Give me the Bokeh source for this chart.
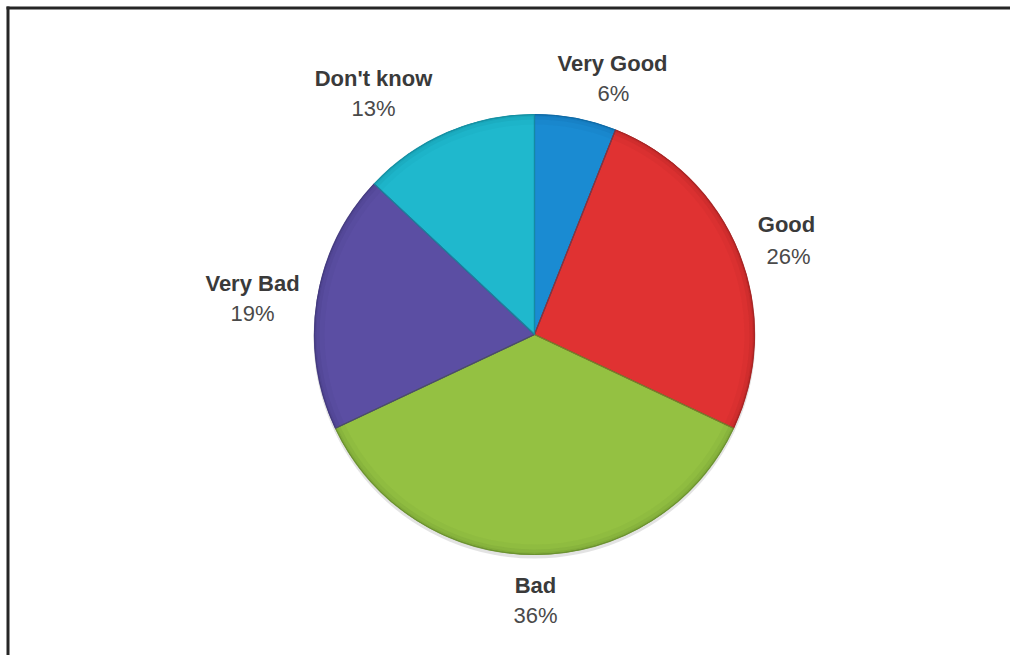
import numpy as np
from bokeh.plotting import figure
from bokeh.embed import file_html
from bokeh.resources import INLINE
from bokeh.core.properties import value

# ---- data ----
categories = ["Very Good", "Good", "Bad", "Very Bad", "Don't know"]
shares = [6, 26, 36, 19, 13]
colors = ["#1a8bd2", "#e03232", "#94c142", "#5b4ea3", "#1fb8cd"]
edge_colors = ["#0f6aa6", "#a82424", "#6c9230", "#433a80", "#1590a2"]

# ---- layout (page pixels) ----
W, H = 1010, 655
OX, OY = 0, 0
def px(x):
    return x - OX
def py(y):
    return (OY + H) - y

CX, CY, R = px(534), py(334), 220
label_name_px = [(612, 63), (786, 224), (535, 585), (252, 283), (373, 78)]
label_pct_px = [(613, 93), (788, 256), (535, 615), (252, 313), (373, 108)]

p = figure(width=W, height=H, x_range=(0, W), y_range=(0, H),
           output_backend="svg", toolbar_location=None, min_border=0)
p.axis.visible = False
p.grid.visible = False
p.outline_line_color = None
p.background_fill_color = "white"
p.border_fill_color = "white"

# border (top and left visible, right/bottom cropped in reference)
p.line([px(6), W + 2], [py(7.5), py(7.5)], line_color="#262626", line_width=3)
p.line([px(7.5), px(7.5)], [-2, py(6)], line_color="#262626", line_width=3)

# soft shadow under the pie
p.circle(x=[CX], y=[CY - 3], radius=R + 1, fill_color="#b0b0b0", fill_alpha=0.35, line_color=None)

total = float(sum(shares))
frac = np.array(shares) / total
cum = np.concatenate([[0], np.cumsum(frac)])
start = np.pi / 2 - 2 * np.pi * cum[:-1]
end = np.pi / 2 - 2 * np.pi * cum[1:]

p.wedge(x=[CX] * len(shares), y=[CY] * len(shares), radius=R,
        start_angle=list(start), end_angle=list(end), direction="clock",
        fill_color=colors, line_color=edge_colors, line_width=1)

# rim darkening to mimic bevel
for r_in, a in [(R - 10, 0.10), (R - 5, 0.18), (R - 2, 0.25)]:
    p.annular_wedge(x=[CX] * len(shares), y=[CY] * len(shares),
                    inner_radius=r_in, outer_radius=R,
                    start_angle=list(start), end_angle=list(end), direction="clock",
                    fill_color=edge_colors, fill_alpha=a, line_color=None)

# slice separator lines (darker)
p.wedge(x=[CX] * len(shares), y=[CY] * len(shares), radius=R,
        start_angle=list(start), end_angle=list(end), direction="clock",
        fill_color=None, line_color=edge_colors, line_width=1.2, line_alpha=0.8)

pct_labels = ["%d%%" % round(s / total * 100) for s in shares]

p.text(x=[px(a) for a, b in label_name_px], y=[py(b) for a, b in label_name_px],
       text=categories, text_align="center", text_baseline="middle",
       text_font=value("Liberation Sans"), text_font_size="22px",
       text_font_style="bold", text_color="#3a3a3a")
p.text(x=[px(a) for a, b in label_pct_px], y=[py(b) for a, b in label_pct_px],
       text=pct_labels, text_align="center", text_baseline="middle",
       text_font=value("Liberation Sans"), text_font_size="22px",
       text_color="#4a4a4a")

open("out.html", "w").write(file_html(p, INLINE))
